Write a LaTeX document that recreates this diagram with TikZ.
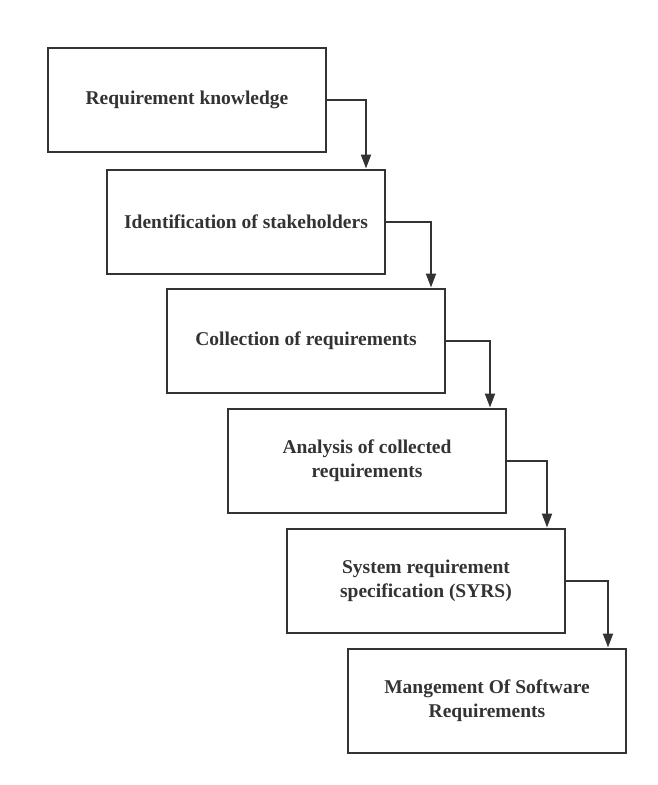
\documentclass[tikz,border=0pt]{standalone}
\usepackage{fontspec}
\setmainfont{Liberation Serif}
\usepackage{tikz}
\usetikzlibrary{arrows.meta,positioning}
\definecolor{inkgray}{RGB}{51,51,51}

\begin{document}
\begin{tikzpicture}[
      x=1pt, y=-1pt,
      font=\fontsize{19.5}{24}\selectfont\bfseries,
      stage/.style={draw=inkgray, line width=2pt, text=inkgray,
                    minimum width=278pt, minimum height=104pt,
                    align=center, inner sep=0pt},
      arr/.style={-{Triangle[length=14pt,width=10pt]}, line width=2pt, inkgray},
    ]
      \useasboundingbox (0,0) rectangle (658,785);

      % Stages
      \node[stage] (know) at (187,100)   {Requirement knowledge};
      \node[stage] (stak) at (246,221.5) {Identification of stakeholders};
      \node[stage] (coll) at (306,340.5) {Collection of requirements};
      \node[stage] (anal) at (367,460.5) {Analysis of collected\\requirements};
      \node[stage] (syrs) at (426,580.5) {System requirement\\specification (SYRS)};
      \node[stage] (mgmt) at (487,700.5) {Mangement Of Software\\Requirements};

      % Arrows
      \draw[arr] (know.east) -| ([xshift=-20pt]stak.north east);
      \draw[arr] (stak.east) -| ([xshift=-15pt]coll.north east);
      \draw[arr] (coll.east) -| ([xshift=-17pt]anal.north east);
      \draw[arr] (anal.east) -| ([xshift=-19pt]syrs.north east);
      \draw[arr] (syrs.east) -| ([xshift=-19pt]mgmt.north east);
    \end{tikzpicture}
\end{document}
